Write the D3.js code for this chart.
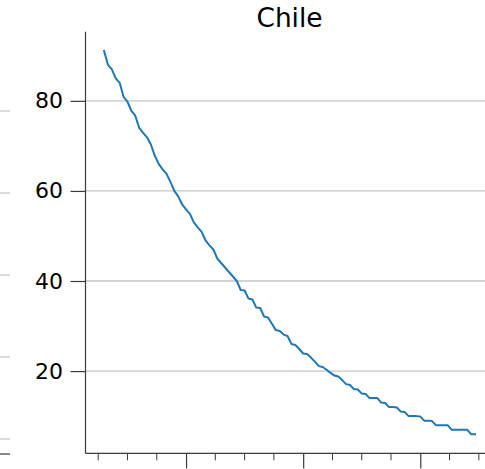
<!DOCTYPE html>
<html>
<head>
<meta charset="utf-8">
<script src="https://cdn.jsdelivr.net/npm/d3@7"></script>
<style>
  html, body { margin: 0; padding: 0; background: #fff; }
  svg { display: block; font-family: "DejaVu Sans", sans-serif; }
</style>
</head>
<body>
<svg id="chart" width="485" height="469"></svg>
<script>
// ── Data ─────────────────────────────────────────────
const title = "Chile"
const startYear = 1929
const values = [
  91.1, 88.0, 87.0, 85.0, 84.0, 80.9, 79.8, 77.8, 76.7, 74.0,
  72.9, 71.9, 70.3, 67.8, 66.0, 64.8, 63.8, 62.0, 60.0, 58.8,
  57.0, 55.9, 54.9, 53.0, 51.9, 50.9, 49.0, 47.9, 47.0, 45.0,
  44.0, 43.0, 42.0, 41.0, 40.0, 38.0, 37.9, 36.1, 35.9, 34.1,
  34.0, 32.1, 31.9, 30.5, 29.1, 28.9, 28.1, 27.8, 26.0, 25.8,
  24.9, 23.9, 23.8, 23.0, 22.1, 21.1, 20.9, 20.3, 19.6, 19.0,
  18.8, 18.0, 17.1, 16.9, 16.0, 15.9, 15.0, 14.9, 14.0, 14.0,
  14.0, 13.0, 12.9, 12.0, 12.0, 11.9, 11.0, 10.9, 10.0, 10.0,
  10.0, 9.9, 9.0, 9.0, 8.9, 8.0, 8.0, 8.0, 8.0, 7.0,
  7.0, 7.0, 7.0, 7.0, 6.0, 6.0
]
const years = values.map((_, i) => startYear + i)
const yTicks = [20, 40, 60, 80]
const xMajorTicks = [1950, 1980, 2010]
const xMinorTicks = [1927.5, 1935, 1942.5, 1957.5, 1965, 1972.5, 1987.5, 1995, 2002.5, 2017.5, 2025]
// gridlines of the neighbouring panel peeking in at the left edge
const neighborTicks = [10, 20, 30, 40, 50]

// ── Layout ───────────────────────────────────────────
const svg = d3.select("#chart")
const M = { left: 85.5, right: 493.5, top: 31.7, bottom: 453.3 }
const axisColor = "#3a3a3a"
const gridColor = "#c4c4c4"

// matplotlib-style 5% margins
function padded(ext) {
  const p = (ext[1] - ext[0]) * 0.05
  return [ext[0] - p, ext[1] + p]
}

const x = d3.scaleLinear().domain(padded(d3.extent(years))).range([M.left, M.right])
const y = d3.scaleLinear().domain(padded(d3.extent(values))).range([M.bottom, M.top])

// neighbour panel (left, cut off)
const yN = d3.scaleLinear().domain([0, 50]).range([521, 111])
svg.append("g").selectAll("line").data(neighborTicks).join("line")
  .attr("x1", 0).attr("x2", 10)
  .attr("y1", d => yN(d)).attr("y2", d => yN(d))
  .attr("stroke", gridColor).attr("stroke-width", 1.2)
svg.append("line")
  .attr("x1", 0).attr("x2", 10).attr("y1", 454).attr("y2", 454)
  .attr("stroke", axisColor).attr("stroke-width", 1.2)

// gridlines
svg.append("g").selectAll("line").data(yTicks).join("line")
  .attr("x1", M.left).attr("x2", 485)
  .attr("y1", d => y(d)).attr("y2", d => y(d))
  .attr("stroke", gridColor).attr("stroke-width", 1.3)

// y axis
const yAxis = svg.append("g")
  .attr("transform", `translate(${M.left},0)`)
  .call(d3.axisLeft(y).tickValues(yTicks).tickSize(15).tickPadding(7.5))
yAxis.select(".domain").attr("stroke", axisColor).attr("stroke-width", 1.2)
  .attr("d", `M0,${M.top}V${M.bottom}`)
yAxis.selectAll(".tick line").attr("stroke", axisColor).attr("stroke-width", 1.2)
yAxis.selectAll(".tick text")
  .attr("fill", "#000").attr("font-size", 22)
  .attr("font-family", "DejaVu Sans, sans-serif")

// x axis (no labels visible)
const xAxis = svg.append("g")
  .attr("transform", `translate(0,${M.bottom})`)
  .call(d3.axisBottom(x).tickValues(xMajorTicks).tickSize(15).tickFormat(""))
xAxis.select(".domain").attr("stroke", axisColor).attr("stroke-width", 1.2)
  .attr("d", `M${M.left},0H${M.right}`)
xAxis.selectAll(".tick line").attr("stroke", axisColor).attr("stroke-width", 1.2)

svg.append("g")
  .attr("transform", `translate(0,${M.bottom})`)
  .selectAll("line").data(xMinorTicks).join("line")
  .attr("x1", d => x(d)).attr("x2", d => x(d))
  .attr("y1", 0).attr("y2", 7)
  .attr("stroke", axisColor).attr("stroke-width", 1)

// series
const line = d3.line()
  .x((d, i) => x(years[i]))
  .y(d => y(d))
svg.append("path")
  .datum(values)
  .attr("d", line)
  .attr("fill", "none")
  .attr("stroke", "#1f77b4")
  .attr("stroke-width", 2)
  .attr("stroke-linejoin", "round")
  .attr("stroke-linecap", "square")

// title
svg.append("text")
  .attr("x", (M.left + M.right) / 2)
  .attr("y", 26.5)
  .attr("text-anchor", "middle")
  .attr("font-size", 26.4)
  .attr("fill", "#000")
  .text(title)
</script>
</body>
</html>
